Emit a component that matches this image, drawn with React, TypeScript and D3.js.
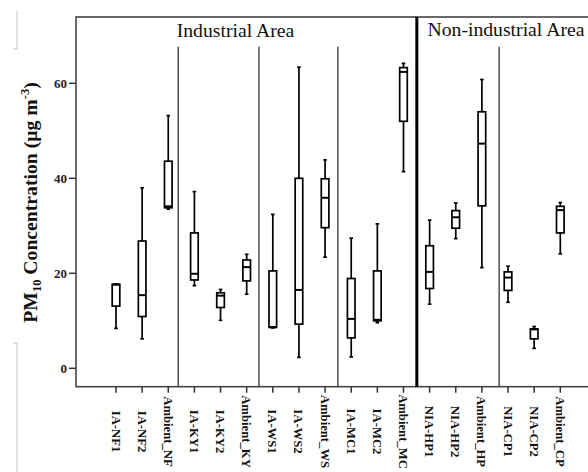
import React from "react";
import * as d3 from "d3";

// PM10 concentration box plots by sampling site
const categories = [
  "IA-NF1", "IA-NF2", "Ambient_NF",
  "IA-KY1", "IA-KY2", "Ambient_KY",
  "IA-WS1", "IA-WS2", "Ambient_WS",
  "IA-MC1", "IA-MC2", "Ambient_MC",
  "NIA-HP1", "NIA-HP2", "Ambient_HP",
  "NIA-CP1", "NIA-CP2", "Ambient_CP",
];
const mins = [8.4, 6.2, 33.5, 17.4, 10.1, 15.6, 8.5, 2.3, 23.4, 2.4, 9.6, 41.4, 13.5, 27.3, 21.2, 13.9, 4.2, 24.1];
const q1s = [13.1, 10.9, 33.8, 18.6, 12.8, 18.4, 8.6, 9.3, 29.6, 6.4, 10.0, 52.0, 16.8, 29.5, 34.2, 16.4, 6.2, 28.5];
const medians = [17.6, 15.4, 34.1, 19.9, 15.3, 21.3, 8.7, 16.5, 35.9, 10.4, 10.2, 62.4, 20.3, 31.8, 47.3, 19.1, 8.2, 33.3];
const q3s = [17.7, 26.8, 43.6, 28.5, 15.9, 22.8, 20.5, 40.0, 39.9, 18.9, 20.5, 63.3, 25.8, 33.2, 54.0, 20.3, 8.3, 34.1];
const maxs = [17.7, 38.0, 53.2, 37.2, 16.6, 24.0, 32.4, 63.4, 43.9, 27.4, 30.4, 64.2, 31.2, 34.8, 60.8, 21.5, 8.8, 34.9];
const yTicks = [0, 20, 40, 60];
// index of the last category in each site group (a divider follows it)
const groupEnds = [2, 5, 8, 11, 14];
const areaSplitAfter = 11;

const W = 588;
const H = 472;
const FONT = "'Liberation Serif', 'Times New Roman', serif";

// divider placement after each group, as a fraction of one category step
const dividerOffsets = [0.38, 0.47, 0.49, 0.51, 0.66];

export default function App() {
  const left = 76;
  const right = 602;
  const top = 17;
  const bottom = 386.7;

  const x = d3.scalePoint<string>().domain(categories).range([116, 560.3]);
  const y = d3.scaleLinear().domain([0, 60]).range([368.3, 83.3]);
  const step = x.step();
  const boxW = 7.6;
  const capW = 3.6;

  return (
    <svg
      width={W}
      height={H}
      viewBox={`0 0 ${W} ${H}`}
      style={{ position: "absolute", left: 0, top: 0, background: "#fff" }}
    >
      <rect x={0} y={0} width={W} height={H} fill="#fff" />

      {/* stray text-box edges at the left */}
      <path d="M17,11 V49 H13" fill="none" stroke="#c4c4c4" strokeWidth={1} />
      <path d="M13,343 H17 V472" fill="none" stroke="#c4c4c4" strokeWidth={1} />

      {/* plot frame */}
      <rect
        x={left}
        y={top}
        width={right - left}
        height={bottom - top}
        fill="none"
        stroke="#444"
        strokeWidth={1.6}
      />

      {/* group dividers */}
      {groupEnds.map((gi, k) => {
        const gx = x(categories[gi])! + dividerOffsets[k] * step;
        const thick = gi === areaSplitAfter;
        return (
          <line
            key={gi}
            x1={gx}
            x2={gx}
            y1={thick ? top : 46.7}
            y2={bottom}
            stroke={thick ? "#000" : "#333"}
            strokeWidth={thick ? 3 : 1.3}
          />
        );
      })}

      {/* area titles */}
      <text x={235.5} y={37} fontFamily={FONT} fontSize={19.7} textAnchor="middle" fill="#111">
        Industrial Area
      </text>
      <text x={427.5} y={36} fontFamily={FONT} fontSize={19.7} fill="#111">
        Non-industrial Area
      </text>

      {/* y axis ticks */}
      {yTicks.map((t) => (
        <g key={t}>
          <line x1={left - 7} x2={left} y1={y(t)} y2={y(t)} stroke="#333" strokeWidth={1.5} />
          <text
            x={left - 9}
            y={y(t)}
            dy="0.35em"
            textAnchor="end"
            fontFamily={FONT}
            fontWeight="bold"
            fontSize={13}
            fill="#222"
          >
            {t}
          </text>
        </g>
      ))}

      {/* y axis title */}
      <text
        transform="translate(37,202.5) rotate(-90)"
        textAnchor="middle"
        fontFamily={FONT}
        fontWeight="bold"
        fontSize={19.7}
        fill="#111"
      >
        PM
        <tspan fontSize={12.5} dy={4}>10</tspan>
        <tspan dy={-4}>{" Concentration  (\u00b5g m"}</tspan>
        <tspan fontSize={12.5} dy={-8}>-3</tspan>
        <tspan dy={8}>)</tspan>
      </text>

      {/* x axis ticks and labels */}
      {categories.map((c) => (
        <g key={c}>
          <line x1={x(c)} x2={x(c)} y1={bottom} y2={bottom + 6} stroke="#333" strokeWidth={1.5} />
          <text
            transform={`translate(${x(c)},431.5) rotate(90)`}
            textAnchor="middle"
            dy="0.35em"
            fontFamily={FONT}
            fontWeight="bold"
            fontSize={12.7}
            fill="#111"
          >
            {c}
          </text>
        </g>
      ))}

      {/* box plots */}
      {categories.map((c, i) => {
        const cx = x(c)!;
        return (
          <g key={c} stroke="#000" strokeWidth={1.7} fill="none">
            <line x1={cx} x2={cx} y1={y(maxs[i])} y2={y(q3s[i])} />
            <line x1={cx} x2={cx} y1={y(q1s[i])} y2={y(mins[i])} />
            <line x1={cx - capW / 2} x2={cx + capW / 2} y1={y(maxs[i])} y2={y(maxs[i])} />
            <line x1={cx - capW / 2} x2={cx + capW / 2} y1={y(mins[i])} y2={y(mins[i])} />
            <rect
              x={cx - boxW / 2}
              y={y(q3s[i])}
              width={boxW}
              height={Math.max(0.5, y(q1s[i]) - y(q3s[i]))}
              fill="#fff"
            />
            <line
              x1={cx - boxW / 2}
              x2={cx + boxW / 2}
              y1={y(medians[i])}
              y2={y(medians[i])}
              strokeWidth={2}
            />
          </g>
        );
      })}
    </svg>
  );
}
